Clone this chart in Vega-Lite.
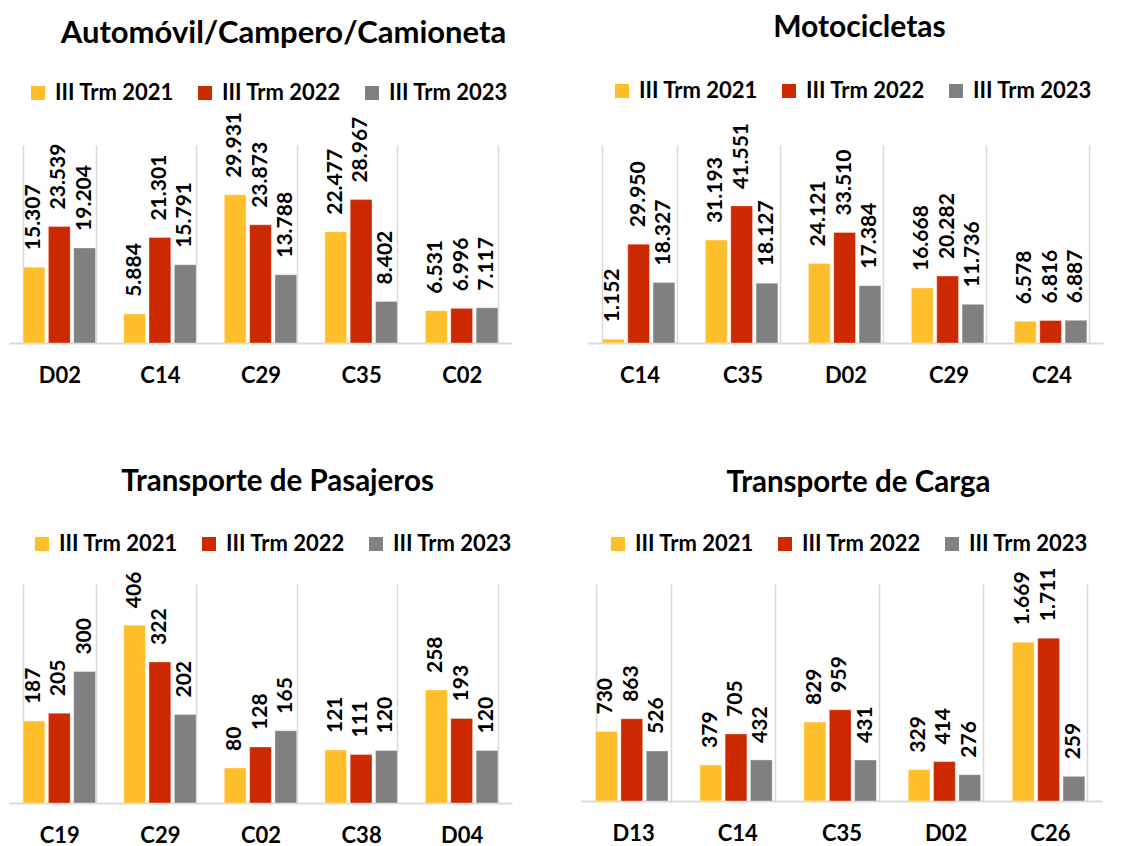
{
  "$schema": "https://vega.github.io/schema/vega-lite/v6.json",
  "padding": {"left": 9, "top": 13, "right": 0, "bottom": 0},
  "background": "white",
  "datasets": {
    "auto": [
      {"cat": "D02", "serie": "III Trm 2021", "v": 15307}, {"cat": "D02", "serie": "III Trm 2022", "v": 23539}, {"cat": "D02", "serie": "III Trm 2023", "v": 19204},
      {"cat": "C14", "serie": "III Trm 2021", "v": 5884}, {"cat": "C14", "serie": "III Trm 2022", "v": 21301}, {"cat": "C14", "serie": "III Trm 2023", "v": 15791},
      {"cat": "C29", "serie": "III Trm 2021", "v": 29931}, {"cat": "C29", "serie": "III Trm 2022", "v": 23873}, {"cat": "C29", "serie": "III Trm 2023", "v": 13788},
      {"cat": "C35", "serie": "III Trm 2021", "v": 22477}, {"cat": "C35", "serie": "III Trm 2022", "v": 28967}, {"cat": "C35", "serie": "III Trm 2023", "v": 8402},
      {"cat": "C02", "serie": "III Trm 2021", "v": 6531}, {"cat": "C02", "serie": "III Trm 2022", "v": 6996}, {"cat": "C02", "serie": "III Trm 2023", "v": 7117}
    ],
    "moto": [
      {"cat": "C14", "serie": "III Trm 2021", "v": 1152}, {"cat": "C14", "serie": "III Trm 2022", "v": 29950}, {"cat": "C14", "serie": "III Trm 2023", "v": 18327},
      {"cat": "C35", "serie": "III Trm 2021", "v": 31193}, {"cat": "C35", "serie": "III Trm 2022", "v": 41551}, {"cat": "C35", "serie": "III Trm 2023", "v": 18127},
      {"cat": "D02", "serie": "III Trm 2021", "v": 24121}, {"cat": "D02", "serie": "III Trm 2022", "v": 33510}, {"cat": "D02", "serie": "III Trm 2023", "v": 17384},
      {"cat": "C29", "serie": "III Trm 2021", "v": 16668}, {"cat": "C29", "serie": "III Trm 2022", "v": 20282}, {"cat": "C29", "serie": "III Trm 2023", "v": 11736},
      {"cat": "C24", "serie": "III Trm 2021", "v": 6578}, {"cat": "C24", "serie": "III Trm 2022", "v": 6816}, {"cat": "C24", "serie": "III Trm 2023", "v": 6887}
    ],
    "pas": [
      {"cat": "C19", "serie": "III Trm 2021", "v": 187}, {"cat": "C19", "serie": "III Trm 2022", "v": 205}, {"cat": "C19", "serie": "III Trm 2023", "v": 300},
      {"cat": "C29", "serie": "III Trm 2021", "v": 406}, {"cat": "C29", "serie": "III Trm 2022", "v": 322}, {"cat": "C29", "serie": "III Trm 2023", "v": 202},
      {"cat": "C02", "serie": "III Trm 2021", "v": 80}, {"cat": "C02", "serie": "III Trm 2022", "v": 128}, {"cat": "C02", "serie": "III Trm 2023", "v": 165},
      {"cat": "C38", "serie": "III Trm 2021", "v": 121}, {"cat": "C38", "serie": "III Trm 2022", "v": 111}, {"cat": "C38", "serie": "III Trm 2023", "v": 120},
      {"cat": "D04", "serie": "III Trm 2021", "v": 258}, {"cat": "D04", "serie": "III Trm 2022", "v": 193}, {"cat": "D04", "serie": "III Trm 2023", "v": 120}
    ],
    "carga": [
      {"cat": "D13", "serie": "III Trm 2021", "v": 730}, {"cat": "D13", "serie": "III Trm 2022", "v": 863}, {"cat": "D13", "serie": "III Trm 2023", "v": 526},
      {"cat": "C14", "serie": "III Trm 2021", "v": 379}, {"cat": "C14", "serie": "III Trm 2022", "v": 705}, {"cat": "C14", "serie": "III Trm 2023", "v": 432},
      {"cat": "C35", "serie": "III Trm 2021", "v": 829}, {"cat": "C35", "serie": "III Trm 2022", "v": 959}, {"cat": "C35", "serie": "III Trm 2023", "v": 431},
      {"cat": "D02", "serie": "III Trm 2021", "v": 329}, {"cat": "D02", "serie": "III Trm 2022", "v": 414}, {"cat": "D02", "serie": "III Trm 2023", "v": 276},
      {"cat": "C26", "serie": "III Trm 2021", "v": 1669}, {"cat": "C26", "serie": "III Trm 2022", "v": 1711}, {"cat": "C26", "serie": "III Trm 2023", "v": 259}
    ]
  },
  "vconcat": [
    {
      "hconcat": [
        {
          "data": {"name": "auto"},
          "title": {"text": "Automóvil/Campero/Camioneta", "dx": 23, "fontSize": 31, "offset": 14},
          "width": 503, "height": 198,
          "encoding": {
            "x": {"field": "cat", "type": "nominal", "sort": null, "scale": {"paddingInner": 0.28, "paddingOuter": 0.14}},
            "xOffset": {"field": "serie", "type": "nominal", "scale": {"paddingInner": 0.14, "paddingOuter": 0}},
            "y": {"field": "v", "type": "quantitative", "scale": {"domain": [0, 40000]}, "axis": null}
          },
          "layer": [
            {"mark": {"type": "bar", "stroke": "white", "strokeWidth": 1, "strokeOpacity": 0.35}, "encoding": {"color": {"field": "serie", "type": "nominal", "scale": {"domain": ["III Trm 2021", "III Trm 2022", "III Trm 2023"], "range": ["#FEBF2A", "#CC2900", "#808080"]}, "legend": {"padding": 18, "offset": 23}}}},
            {"mark": {"type": "text", "angle": 270, "align": "left", "baseline": "middle", "dx": 17, "font": "Lato", "fontWeight": "bold", "fontSize": 21, "color": "black"}, "encoding": {"text": {"field": "v", "type": "quantitative", "format": ",d"}}}
          ]
        },
        {
          "data": {"name": "moto"},
          "title": {"text": "Motocicletas", "dx": 14, "fontSize": 30, "offset": 14},
          "width": 515, "height": 198,
          "encoding": {
            "x": {"field": "cat", "type": "nominal", "sort": null, "scale": {"paddingInner": 0.28, "paddingOuter": 0.14}},
            "xOffset": {"field": "serie", "type": "nominal", "scale": {"paddingInner": 0.14, "paddingOuter": 0}},
            "y": {"field": "v", "type": "quantitative", "scale": {"domain": [0, 60000]}, "axis": null}
          },
          "layer": [
            {"mark": {"type": "bar", "stroke": "white", "strokeWidth": 1, "strokeOpacity": 0.35}, "encoding": {"color": {"field": "serie", "type": "nominal", "scale": {"domain": ["III Trm 2021", "III Trm 2022", "III Trm 2023"], "range": ["#FEBF2A", "#CC2900", "#808080"]}, "legend": {"padding": 23, "offset": 20}}}},
            {"mark": {"type": "text", "angle": 270, "align": "left", "baseline": "middle", "dx": 17, "font": "Lato", "fontWeight": "bold", "fontSize": 21, "color": "black"}, "encoding": {"text": {"field": "v", "type": "quantitative", "format": ",d"}}}
          ]
        }
      ],
      "spacing": 76,
      "bounds": "flush",
      "resolve": {"scale": {"color": "independent"}, "legend": {"color": "independent"}}
    },
    {
      "hconcat": [
        {
          "data": {"name": "pas"},
          "title": {"text": "Transporte de Pasajeros", "dx": 17, "fontSize": 29.5, "offset": 14},
          "width": 503, "height": 219,
          "encoding": {
            "x": {"field": "cat", "type": "nominal", "sort": null, "scale": {"paddingInner": 0.28, "paddingOuter": 0.14}},
            "xOffset": {"field": "serie", "type": "nominal", "scale": {"paddingInner": 0.14, "paddingOuter": 0}},
            "y": {"field": "v", "type": "quantitative", "scale": {"domain": [0, 500]}, "axis": null}
          },
          "layer": [
            {"mark": {"type": "bar", "stroke": "white", "strokeWidth": 1, "strokeOpacity": 0.35}, "encoding": {"color": {"field": "serie", "type": "nominal", "scale": {"domain": ["III Trm 2021", "III Trm 2022", "III Trm 2023"], "range": ["#FEBF2A", "#CC2900", "#808080"]}, "legend": {"padding": 22, "offset": 7}}}},
            {"mark": {"type": "text", "angle": 270, "align": "left", "baseline": "middle", "dx": 17, "font": "Lato", "fontWeight": "bold", "fontSize": 21, "color": "black"}, "encoding": {"text": {"field": "v", "type": "quantitative", "format": ",d"}}}
          ]
        },
        {
          "data": {"name": "carga"},
          "title": {"text": "Transporte de Carga", "dx": 17, "fontSize": 29.5, "offset": 9},
          "width": 521, "height": 217,
          "encoding": {
            "x": {"field": "cat", "type": "nominal", "sort": null, "scale": {"paddingInner": 0.28, "paddingOuter": 0.14}},
            "xOffset": {"field": "serie", "type": "nominal", "scale": {"paddingInner": 0.14, "paddingOuter": 0}},
            "y": {"field": "v", "type": "quantitative", "scale": {"domain": [0, 2280]}, "axis": null}
          },
          "layer": [
            {"mark": {"type": "bar", "stroke": "white", "strokeWidth": 1, "strokeOpacity": 0.35}, "encoding": {"color": {"field": "serie", "type": "nominal", "scale": {"domain": ["III Trm 2021", "III Trm 2022", "III Trm 2023"], "range": ["#FEBF2A", "#CC2900", "#808080"]}, "legend": {"padding": 26, "offset": 3}}}},
            {"mark": {"type": "text", "angle": 270, "align": "left", "baseline": "middle", "dx": 17, "font": "Lato", "fontWeight": "bold", "fontSize": 21, "color": "black"}, "encoding": {"text": {"field": "v", "type": "quantitative", "format": ",d"}}}
          ]
        }
      ],
      "spacing": 69,
      "bounds": "flush",
      "resolve": {"scale": {"color": "independent"}, "legend": {"color": "independent"}}
    }
  ],
  "spacing": 439,
  "bounds": "flush",
  "resolve": {"scale": {"color": "independent"}, "legend": {"color": "independent"}},
  "config": {
    "locale": {"number": {"decimal": ",", "thousands": ".", "grouping": [3], "currency": ["", ""]}},
    "view": {"stroke": null},
    "axis": {"title": null, "labelAngle": 0, "labelFont": "Lato", "labelFontWeight": "bold", "labelFontSize": 22, "labelColor": "black", "ticks": false, "labelPadding": 22, "domainColor": "#d9d9d9", "domainWidth": 2, "grid": true, "gridColor": "#d9d9d9", "gridWidth": 1.5, "tickBand": "extent"},
    "title": {"font": "Lato", "fontWeight": "bold", "color": "black", "anchor": "middle", "frame": "group", "baseline": "alphabetic"},
    "legend": {"orient": "top", "direction": "horizontal", "title": null, "symbolType": "square", "symbolSize": 196, "symbolStrokeWidth": 0, "labelFont": "Lato", "labelFontSize": 22, "labelFontWeight": "bold", "labelColor": "black", "columnPadding": 20, "labelOffset": 6}
  }
}
